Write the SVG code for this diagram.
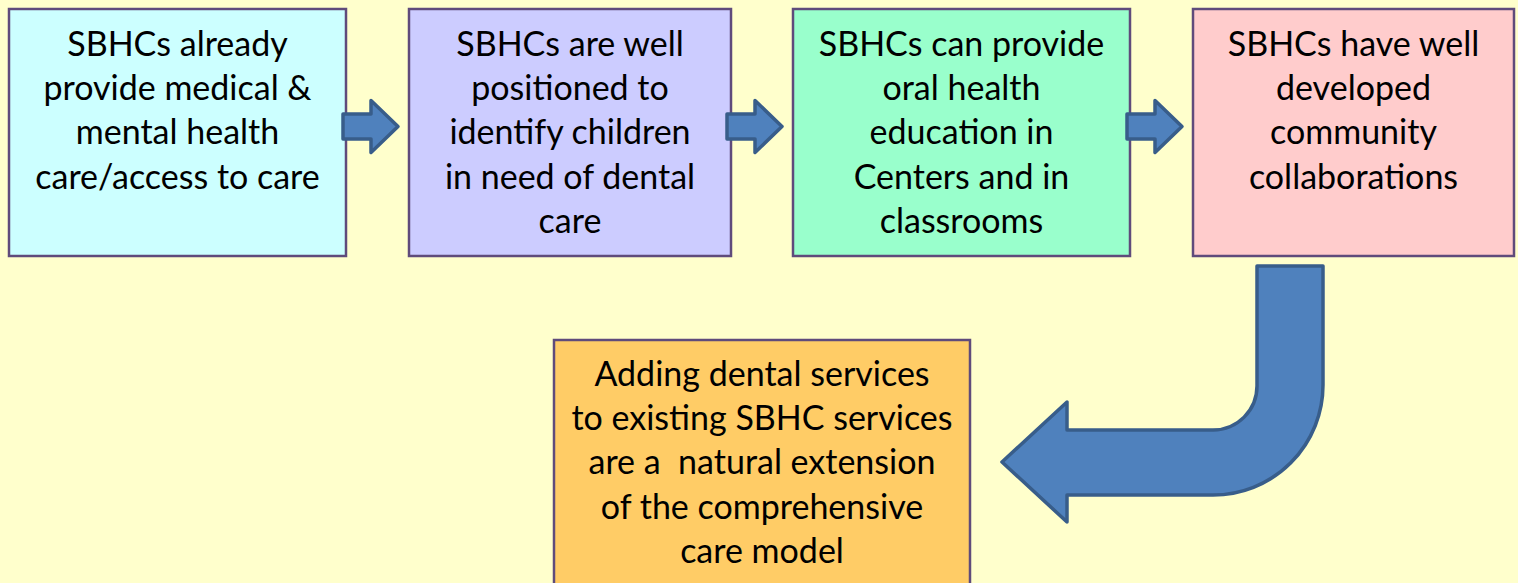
<svg xmlns="http://www.w3.org/2000/svg" width="1518" height="583" viewBox="0 0 1518 583">
<style>
.box{stroke:#5f4b7b;stroke-width:2.5}
.t{font-family:Lato,"Noto Sans",sans-serif;font-size:34px;fill:#000;text-anchor:middle;white-space:pre}
.arr{fill:#4f81bd;stroke:#385d8a;stroke-width:3.5;stroke-linejoin:round}
</style>
<defs>
<path id="sa" d="M0,-12.5 H28 V-26 L55,0 L28,26 V12.5 H0 Z"/>
</defs>
<rect width="1518" height="583" fill="#ffffcc"/>
<g id="n1">
<rect class="box" x="9" y="9" width="337" height="247" fill="#ccffff"/>
<text class="t" x="177.5" y="56">SBHCs already</text>
<text class="t" x="177.5" y="100">provide medical &amp;</text>
<text class="t" x="177.5" y="144">mental health</text>
<text class="t" x="177.5" y="189">care/access to care</text>
</g>
<g id="n2">
<rect class="box" x="409" y="9" width="322" height="247" fill="#ccccff"/>
<text class="t" x="570" y="56">SBHCs are well</text>
<text class="t" x="570" y="100">positioned to</text>
<text class="t" x="570" y="144">identify children</text>
<text class="t" x="570" y="189">in need of dental</text>
<text class="t" x="570" y="233">care</text>
</g>
<g id="n3">
<rect class="box" x="793" y="9" width="337" height="247" fill="#99ffcc"/>
<text class="t" x="961.5" y="56">SBHCs can provide</text>
<text class="t" x="961.5" y="100">oral health</text>
<text class="t" x="961.5" y="144">education in</text>
<text class="t" x="961.5" y="189">Centers and in</text>
<text class="t" x="961.5" y="233">classrooms</text>
</g>
<g id="n4">
<rect class="box" x="1193" y="9" width="321" height="247" fill="#ffcccc"/>
<text class="t" x="1353.5" y="56">SBHCs have well</text>
<text class="t" x="1353.5" y="100">developed</text>
<text class="t" x="1353.5" y="144">community</text>
<text class="t" x="1353.5" y="189">collaborations</text>
</g>
<g id="n5">
<rect class="box" x="554" y="340" width="416" height="260" fill="#ffcc66"/>
<text class="t" x="762" y="386">Adding dental services</text>
<text class="t" x="762" y="430">to existing SBHC services</text>
<text class="t" x="762" y="474">are a  natural extension</text>
<text class="t" x="762" y="519">of the comprehensive</text>
<text class="t" x="762" y="563">care model</text>
</g>
<g id="connectors">
<use href="#sa" class="arr" transform="translate(343,126.5)"/>
<use href="#sa" class="arr" transform="translate(727,126.5)"/>
<use href="#sa" class="arr" transform="translate(1127,126.5)"/>
<path class="arr" d="M1257,266 H1323 V385 A110,110 0 0 1 1213,495 H1067 V522 L1002,462 L1067,402 V430 H1213 A44,44 0 0 0 1257,386 Z"/>
</g>
</svg>
